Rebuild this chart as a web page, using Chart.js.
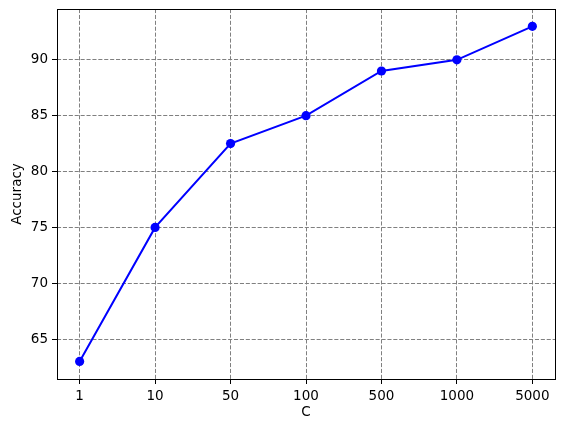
<!DOCTYPE html>
<html>
<head>
<meta charset="utf-8">
<script src="https://cdn.jsdelivr.net/npm/chart.js@4"></script>
<style>
  html, body { margin: 0; padding: 0; background: #fff; }
  #wrap { width: 562px; height: 432px; }
</style>
</head>
<body>
<div id="wrap"><canvas id="accChart" width="562" height="432"></canvas></div>
<script>
// Accuracy vs C
const cLabels = ['1', '10', '50', '100', '500', '1000', '5000'];
const accuracy = [63, 75, 82.5, 85, 89, 90, 93];
const yTicks = [65, 70, 75, 80, 85, 90];

// draw the full black frame round the plot area
const frame = {
  id: 'frame',
  afterDraw(chart) {
    const a = chart.chartArea;
    const c = chart.ctx;
    c.save();
    c.strokeStyle = '#000';
    c.lineWidth = 1;
    c.strokeRect(Math.round(a.left) + 0.5, Math.round(a.top) + 0.5,
      Math.round(a.right - a.left), Math.round(a.bottom - a.top));
    c.restore();
  }
};

const gridOpts = {
  color: '#808080',
  lineWidth: 1,
  tickColor: '#000',
  tickLength: 5,
  tickWidth: 1
};

new Chart(document.getElementById('accChart'), {
  type: 'line',
  data: {
    datasets: [{
      data: accuracy.map((v, i) => ({ x: i, y: v })),
      borderColor: '#0000ff',
      backgroundColor: '#0000ff',
      borderWidth: 2,
      pointRadius: 4.6,
      pointHoverRadius: 4.6,
      pointBorderWidth: 0,
      tension: 0
    }]
  },
  options: {
    responsive: false,
    animation: false,
    layout: { padding: { top: 9, right: 7, left: 0, bottom: 0 } },
    plugins: {
      legend: { display: false },
      tooltip: { enabled: false }
    },
    font: { family: 'DejaVu Sans' },
    scales: {
      x: {
        type: 'linear',
        min: -0.3,
        max: 6.3,
        afterBuildTicks: (s) => { s.ticks = cLabels.map((_, i) => ({ value: i })); },
        afterFit: (s) => { s.height = 53; s.paddingLeft = 0; s.paddingRight = 0; },
        border: { display: false, dash: [4.1, 1.8] },
        grid: gridOpts,
        ticks: {
          color: '#000',
          padding: 4,
          font: { family: 'DejaVu Sans', size: 13.5 },
          callback: (v) => cLabels[v]
        },
        title: {
          display: true,
          text: 'C',
          color: '#000',
          padding: { top: 2, bottom: 11 },
          font: { family: 'DejaVu Sans', size: 13.5 }
        }
      },
      y: {
        type: 'linear',
        min: 61.43,
        max: 94.55,
        afterBuildTicks: (s) => { s.ticks = yTicks.map(v => ({ value: v })); },
        afterFit: (s) => { s.width = 57; s.paddingTop = 0; s.paddingBottom = 0; },
        border: { display: false, dash: [4.1, 1.8] },
        grid: gridOpts,
        ticks: {
          color: '#000',
          padding: 4,
          font: { family: 'DejaVu Sans', size: 13.5 }
        },
        title: {
          display: true,
          text: 'Accuracy',
          color: '#000',
          padding: { top: 9, bottom: 2 },
          font: { family: 'DejaVu Sans', size: 13.5 }
        }
      }
    }
  },
  plugins: [frame]
});
</script>
</body>
</html>
